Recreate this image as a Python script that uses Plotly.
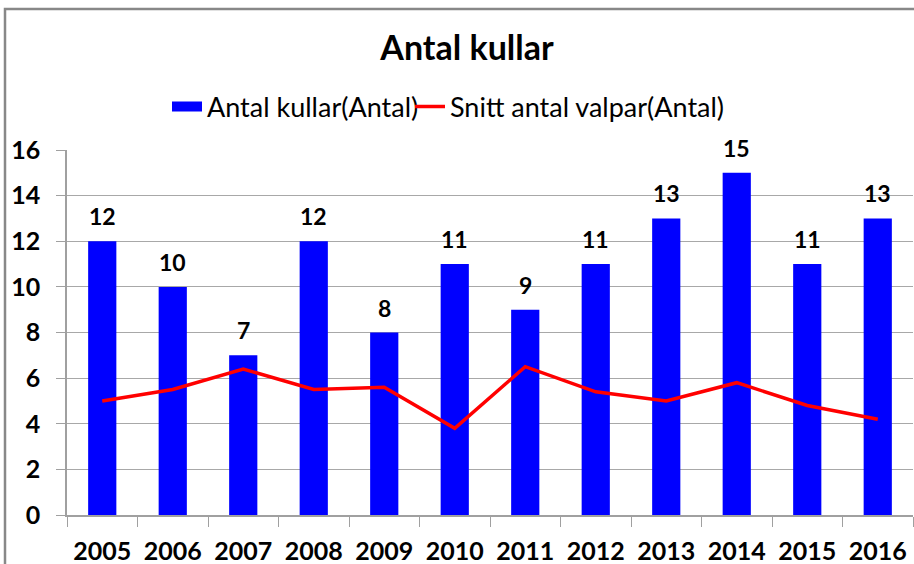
import plotly.graph_objects as go

years = ["2005", "2006", "2007", "2008", "2009", "2010", "2011", "2012", "2013", "2014", "2015", "2016"]
kullar = [12, 10, 7, 12, 8, 11, 9, 11, 13, 15, 11, 13]
snitt_valpar = [5.0, 5.5, 6.4, 5.5, 5.6, 3.8, 6.5, 5.4, 5.0, 5.8, 4.8, 4.2]
y_ticks = [0, 2, 4, 6, 8, 10, 12, 14, 16]

FONT = "Lato, 'Open Sans', sans-serif"
W, H = 914, 564
L, R, T, B = 67, 1, 150, 49
PW = W - L - R
PH = H - T - B

fig = go.Figure()
fig.add_trace(go.Bar(
    x=years, y=kullar, name="Antal kullar(Antal)", showlegend=False,
    marker=dict(color="#0000FF", line=dict(width=0)),
))
# legend proxy for the bar series (wide rectangular key)
fig.add_trace(go.Scatter(
    x=[None], y=[None], name="Antal kullar(Antal)", mode="lines",
    line=dict(color="#0000FF", width=20), legend="legend",
))
fig.add_trace(go.Scatter(
    x=years, y=snitt_valpar, name="Snitt antal valpar(Antal)",
    mode="lines", line=dict(color="#FF0000", width=3.5), legend="legend2",
))
for i, v in enumerate(kullar):
    fig.add_annotation(x=i, y=v, xref="x", yref="y", text=f"<b>{v}</b>", showarrow=False,
                       yanchor="bottom", yshift=9,
                       font=dict(family=FONT, size=23, color="black"))

leg_common = dict(orientation="h", xanchor="left", y=1 - 107 / H, yref="container",
                  yanchor="middle", font=dict(family=FONT, size=27, color="black"),
                  bgcolor="rgba(0,0,0,0)", borderwidth=0)

fig.update_layout(
    width=W, height=H,
    margin=dict(l=L, r=R, t=T, b=B, autoexpand=False),
    paper_bgcolor="white", plot_bgcolor="white",
    bargap=0.6,
    title=dict(text="<b>Antal kullar</b>", x=467 / W, xref="container", xanchor="center",
               y=1 - 48 / H, yref="container", yanchor="middle",
               font=dict(family=FONT, size=34, color="black")),
    legend=dict(x=(167 - L) / PW, **leg_common),
    legend2=dict(x=(410 - L) / PW, **leg_common),
    showlegend=True,
    shapes=[dict(type="rect", xref="paper", yref="paper",
                 x0=(5 - L) / PW, x1=1.2, y0=-1, y1=(H - B - 9) / PH,
                 line=dict(color="#888888", width=2.5), fillcolor="rgba(0,0,0,0)",
                 layer="below")],
)
fig.update_xaxes(
    type="category", showgrid=False, range=[-0.5, 11.5],
    showline=True, linecolor="#A0A0A0", linewidth=1.5,
    ticks="outside", ticklen=10, tickcolor="#A0A0A0", tickson="boundaries",
    tickfont=dict(family=FONT, size=25, color="black"),
    ticklabelstandoff=13,
    tickprefix="<b>", ticksuffix="</b>",
)
fig.update_yaxes(
    range=[0, 16], tickvals=y_ticks,
    ticktext=[f"<b>{t}</b>" for t in y_ticks],
    showgrid=True, gridcolor="#A8A8A8", gridwidth=1.2,
    showline=True, linecolor="#A0A0A0", linewidth=1.5,
    ticks="outside", ticklen=9, tickcolor="#A0A0A0",
    tickfont=dict(family=FONT, size=25, color="black"),
    ticklabelstandoff=11,
    zeroline=False,
)
fig.write_html("out.html", config={"displayModeBar": False},
               post_script="document.body.style.margin='0';")
